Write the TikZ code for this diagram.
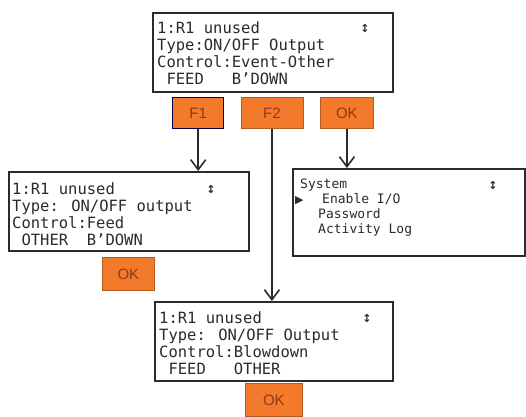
\documentclass[tikz,border=0pt]{standalone}
\usepackage{fontspec}
\newfontfamily\lcd{DejaVu Sans Mono}
\newfontfamily\sym{DejaVu Sans}
\newfontfamily\btnfont{Liberation Sans}
\usetikzlibrary{arrows.meta}
\definecolor{btn}{HTML}{F37A2A}
\definecolor{btntxt}{HTML}{8A3A1E}
\definecolor{frame}{HTML}{2B2B2B}
\begin{document}
\begin{tikzpicture}[x=1pt,y=-1pt,
 screen/.style={draw=frame,line width=1.6pt,fill=white,inner sep=0,anchor=north west},
 lcdtext/.style={anchor=north west,inner sep=0,align=left,text=frame,font=\lcd\fontsize{15.5}{17}\selectfont},
 lcdsmall/.style={anchor=north west,inner sep=0,align=left,text=frame,font=\lcd\fontsize{13}{15}\selectfont},
 updown/.style={inner sep=0,text=frame,font=\sym\bfseries\fontsize{11}{11}\selectfont},
 key/.style={fill=btn,draw=btn!75!black,line width=0.8pt,inner sep=0,anchor=north west,font=\btnfont\fontsize{15}{15}\selectfont,text=btntxt},
 flow/.style={draw=frame,line width=1.7pt,-{Straight Barb[length=10pt,width=15pt,line width=1.6pt]}}]
\useasboundingbox (0,0) rectangle (526,416);

% screens
\node[screen,minimum width=240pt,minimum height=79pt] (top) at (152,12) {};
\node[screen,minimum width=240pt,minimum height=79pt] (lbox) at (8,171) {};
\node[screen,minimum width=232pt,minimum height=87pt] (rbox) at (292,168) {};
\node[screen,minimum width=238pt,minimum height=79pt] (bbox) at (154,301) {};

% screen texts
\node[lcdtext] (toptxt) at (157,22) {1:R1 unused\\Type:ON/OFF Output\\Control:Event-Other\\~FEED~~~B’DOWN};
\node[updown] (topsym) at (365,28) {↕};

\node[lcdtext] (ltxt) at (12,183) {1:R1 unused\\Type: ON/OFF output\\Control:Feed\\~OTHER~~B’DOWN};
\node[updown] (lsym) at (211,189) {↕};

\node[lcdsmall] (rtxt) at (295,179) {\hspace*{5pt}System\\\makebox[27pt][l]{\sym\fontsize{11}{15}\selectfont ▶}Enable I/O\\\hspace*{23pt}Password\\\hspace*{23pt}Activity Log};
\node[updown] (rsym) at (493,185) {↕};

\node[lcdtext] (btxt) at (159,312) {1:R1 unused\\Type: ON/OFF Output\\Control:Blowdown\\~FEED~~~OTHER};
\node[updown] (bsym) at (367,318) {↕};

% keys
\node[key,draw=black!70!blue,line width=1.4pt,minimum width=51pt,minimum height=31pt] (f1) at (172,97) {F1};
\node[key,minimum width=62pt,minimum height=31pt] (f2) at (240.5,97) {F2};
\node[key,minimum width=53pt,minimum height=31pt] (ok1) at (320,97) {OK};
\node[key,minimum width=52pt,minimum height=33pt] (ok2) at (102,257) {OK};
\node[key,minimum width=57pt,minimum height=33pt] (ok3) at (245,383) {OK};

% connectors
\draw[flow] (f1.south) -- (f1.south |- lbox.north);
\draw[flow] (f2.south) -- (f2.south |- bbox.north);
\draw[flow] (ok1.south) -- (ok1.south |- rbox.north);
\end{tikzpicture}
\end{document}
